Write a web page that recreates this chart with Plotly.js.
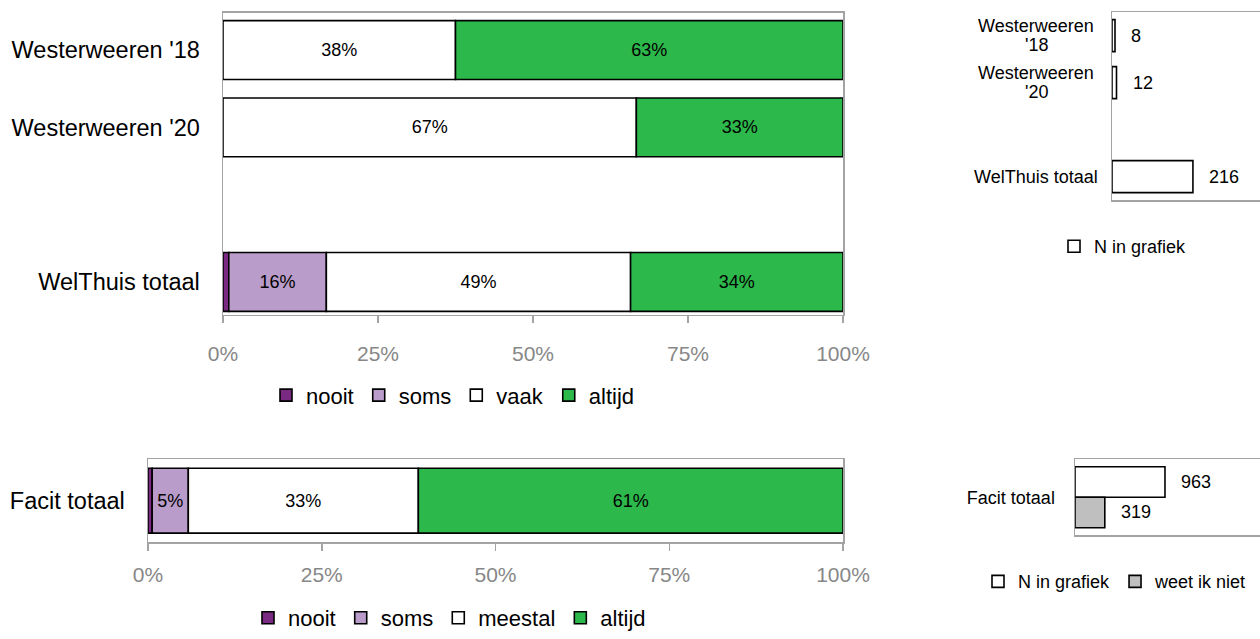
<!DOCTYPE html>
<html>
<head>
<meta charset="utf-8">
<script src="https://cdn.plot.ly/plotly-3.0.1.min.js"></script>
<style>
html,body{margin:0;padding:0;background:#fff;overflow:hidden;width:1260px;height:639px;}
#chart{position:absolute;left:0;top:0;width:1260px;height:639px;overflow:hidden;}
</style>
</head>
<body>
<div id="chart"></div>
<script>
// ---- data ----
const topCategories = ["Westerweeren '18", "Westerweeren '20", " ", "WelThuis totaal"];
const topRows = ["Westerweeren '18", "Westerweeren '20", "WelThuis totaal"];
const topSeries = ["nooit", "soms", "vaak", "altijd"];
const topNooit  = [0, 0, 0.93];
const topSoms   = [0, 0, 15.74];
const topVaak   = [37.5, 66.67, 49.07];
const topAltijd = [62.5, 33.33, 34.26];

const bottomRows = ["Facit totaal"];
const bottomSeries = ["nooit", "soms", "meestal", "altijd"];
const bottomNooit   = [0.6];
const bottomSoms    = [5.2];
const bottomMeestal = [33.1];
const bottomAltijd  = [61.1];

const nTopRows = ["Westerweeren '18", "Westerweeren '20", "WelThuis totaal"];
const nTopLabels = [["Westerweeren", "'18"], ["Westerweeren", "'20"], ["WelThuis totaal"]];
const nTopValues = [8, 12, 216];
const nBottomRows = ["Facit totaal"];
const nBottomValues = [963];
const weetBottomValues = [319];

const pctTicks = [0, 25, 50, 75, 100];
const pctTickText = ["0%", "25%", "50%", "75%", "100%"];

// ---- styles ----
const FONT = "Liberation Sans, Arial, sans-serif";
const colors = ["#7b2a83", "#b99cc9", "#ffffff", "#2db84b"];
const frame = "#a3a3a3";
const tickGray = "#878787";

function cum(arrays, i) {
  return arrays[0].map((_, j) => arrays.slice(0, i).reduce((s, a) => s + a[j], 0));
}
function lbl(arr) { return arr.map(v => v >= 3 ? Math.round(v) + "%" : ""); }

const traces = [];
const topVals = [topNooit, topSoms, topVaak, topAltijd];
topSeries.forEach((name, i) => {
  traces.push({
    type: "bar", orientation: "h", name: name,
    y: topRows, x: topVals[i], base: cum(topVals, i),
    xaxis: "x", yaxis: "y", width: 0.762,
    marker: {color: colors[i], line: {color: "#000", width: 1.6}},
    text: lbl(topVals[i]), textposition: "inside", insidetextanchor: "middle",
    constraintext: "none", textangle: 0,
    textfont: {family: FONT, size: 18, color: "#000"},
    legend: "legend", hoverinfo: "name+x"
  });
});
const botVals = [bottomNooit, bottomSoms, bottomMeestal, bottomAltijd];
bottomSeries.forEach((name, i) => {
  traces.push({
    type: "bar", orientation: "h", name: name,
    y: bottomRows, x: botVals[i], base: cum(botVals, i),
    xaxis: "x2", yaxis: "y2", width: 0.78,
    marker: {color: colors[i], line: {color: "#000", width: 1.6}},
    text: lbl(botVals[i]), textposition: "inside", insidetextanchor: "middle",
    constraintext: "none", textangle: 0,
    textfont: {family: FONT, size: 18, color: "#000"},
    legend: "legend2", hoverinfo: "name+x"
  });
});
traces.push({
  type: "bar", orientation: "h", name: "N in grafiek",
  y: nTopRows, x: nTopValues, xaxis: "x3", yaxis: "y3", width: 0.68,
  marker: {color: "#ffffff", line: {color: "#000", width: 1.6}},
  legend: "legend3", hoverinfo: "x"
});
traces.push({
  type: "bar", orientation: "h", name: "N in grafiek",
  y: nBottomRows, x: nBottomValues, xaxis: "x4", yaxis: "y4", width: 0.4, offset: -0.4,
  marker: {color: "#ffffff", line: {color: "#000", width: 1.6}},
  legend: "legend4", hoverinfo: "x"
});
traces.push({
  type: "bar", orientation: "h", name: "weet ik niet",
  y: nBottomRows, x: weetBottomValues, xaxis: "x4", yaxis: "y4", width: 0.4, offset: 0,
  marker: {color: "#bfbfbf", line: {color: "#000", width: 1.6}},
  legend: "legend4", hoverinfo: "x"
});

const annotations = [];
nTopRows.forEach((r, i) => {
  const lines = nTopLabels[i];
  const gap = 19;
  lines.forEach((t, k) => {
    annotations.push({xref: "x3", yref: "y3", x: 0, y: r, text: t, showarrow: false,
      xanchor: "center", xshift: -76, yshift: (lines.length - 1) * gap / 2 - k * gap,
      font: {family: FONT, size: 18, color: "#000"}});
  });
  annotations.push({xref: "x3", yref: "y3", x: nTopValues[i], y: r, text: String(nTopValues[i]), showarrow: false,
    xanchor: "left", xshift: 14, font: {family: FONT, size: 18, color: "#000"}});
});
nBottomRows.forEach((r, i) => {
  annotations.push({xref: "x4", yref: "y4", x: nBottomValues[i], y: -0.2, text: String(nBottomValues[i]), showarrow: false,
    xanchor: "left", xshift: 14, font: {family: FONT, size: 18, color: "#000"}});
  annotations.push({xref: "x4", yref: "y4", x: weetBottomValues[i], y: 0.2, text: String(weetBottomValues[i]), showarrow: false,
    xanchor: "left", xshift: 14, font: {family: FONT, size: 18, color: "#000"}});
});

function pctAxis(domain, anchor, standoff) {
  return {domain: domain, anchor: anchor, range: [0, 100], tickmode: "array", tickvals: pctTicks, ticktext: pctTickText,
    ticks: "outside", ticklen: 7, tickwidth: 1.5, tickcolor: frame, showline: true, linecolor: frame, linewidth: 1.5,
    mirror: true, showgrid: false, zeroline: false, fixedrange: true, ticklabelstandoff: standoff,
    tickfont: {family: FONT, size: 21, color: tickGray}};
}
function legendAt(x, y, size) {
  return {orientation: "h", x: x, y: y, xanchor: "left", yanchor: "middle", bgcolor: "rgba(0,0,0,0)",
    font: {family: FONT, size: size, color: "#000"}, itemclick: false, itemdoubleclick: false,
    traceorder: "normal", itemwidth: 30};
}

const layout = {
  width: 1260, height: 639, margin: {l: 0, r: 0, t: 0, b: 0},
  paper_bgcolor: "#fff", plot_bgcolor: "#fff", barmode: "overlay", showlegend: true,
  font: {family: FONT},
  xaxis: pctAxis([223/1260, 843/1260], "y", 12),
  yaxis: {domain: [1 - 319.3/639, 1 - 12.7/639], anchor: "x", type: "category", categoryarray: topCategories,
    categoryorder: "array", range: [3.425, -0.486], showline: true, linecolor: frame, linewidth: 1.5, mirror: true,
    ticks: "", showgrid: false, zeroline: false, fixedrange: true, ticklabelstandoff: 17,
    tickfont: {family: FONT, size: 23.5, color: "#000"}},
  xaxis2: pctAxis([148/1260, 843/1260], "y2", 6),
  yaxis2: {domain: [1 - 550/639, 1 - 465.7/639], anchor: "x2", type: "category", range: [0.5, -0.5],
    showline: true, linecolor: frame, linewidth: 1.5, mirror: true, ticks: "", showgrid: false, zeroline: false,
    fixedrange: true, ticklabelstandoff: 17, tickfont: {family: FONT, size: 23.5, color: "#000"}},
  xaxis3: {domain: [1112/1260, 1], anchor: "y3", range: [0, 395], showticklabels: false, ticks: "",
    showline: true, linecolor: frame, linewidth: 1.5, mirror: true, showgrid: false, zeroline: false, fixedrange: true},
  yaxis3: {domain: [1 - 203/639, 1 - 12.3/639], anchor: "x3", type: "category", categoryarray: nTopRows.slice(0,2).concat([" "], nTopRows.slice(2)),
    categoryorder: "array", range: [3.5, -0.5], showticklabels: false, ticks: "", showline: true, linecolor: frame,
    linewidth: 1.5, showgrid: false, zeroline: false, fixedrange: true},
  xaxis4: {domain: [1075/1260, 1], anchor: "y4", range: [0, 1980], showticklabels: false, ticks: "",
    showline: true, linecolor: frame, linewidth: 1.5, mirror: true, showgrid: false, zeroline: false, fixedrange: true},
  yaxis4: {domain: [1 - 543/639, 1 - 465.7/639], anchor: "x4", type: "category", range: [0.5, -0.5],
    ticks: "", showline: true, linecolor: frame, linewidth: 1.5, showgrid: false, zeroline: false, fixedrange: true,
    ticklabelstandoff: 15, tickfont: {family: FONT, size: 18, color: "#000"}},
  legend: legendAt(266/1260, 1 - 401/639, 22),
  legend2: legendAt(248/1260, 1 - 627/639, 22),
  legend3: legendAt(1054/1260, 1 - 250/639, 18),
  legend4: legendAt(978/1260, 1 - 590/639, 18),
  annotations: annotations
};

Plotly.newPlot("chart", traces, layout, {displayModeBar: false, staticPlot: true});
</script>
</body>
</html>
